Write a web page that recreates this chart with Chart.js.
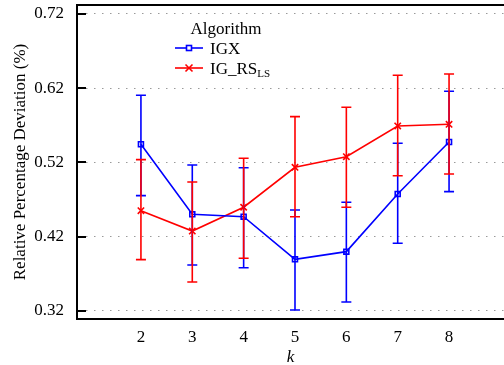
<!DOCTYPE html>
<html>
<head>
<meta charset="utf-8">
<script src="https://cdn.jsdelivr.net/npm/chart.js@4.4.1/dist/chart.umd.min.js"></script>
<style>
  html, body { margin: 0; padding: 0; background: #fff; overflow: hidden; }
  #wrap { position: relative; width: 504px; height: 365px; }
</style>
</head>
<body>
<div id="wrap"><canvas id="c" width="504" height="365"></canvas></div>
<script>
// ---- data ----
const kValues = [2, 3, 4, 5, 6, 7, 8];
const yTickValues = [0.32, 0.42, 0.52, 0.62, 0.72];

const igxMean  = [0.5445, 0.4502, 0.4470, 0.3896, 0.3999, 0.4776, 0.5476];
const igxLower = [0.4753, 0.3820, 0.3783, 0.3213, 0.3321, 0.4112, 0.4807];
const igxUpper = [0.6105, 0.5166, 0.5130, 0.4560, 0.4664, 0.5459, 0.6159];

const rsMean   = [0.4551, 0.4277, 0.4597, 0.5135, 0.5278, 0.5692, 0.5714];
const rsLower  = [0.3891, 0.3591, 0.3910, 0.4470, 0.4597, 0.5022, 0.5045];
const rsUpper  = [0.5238, 0.4937, 0.5257, 0.5817, 0.5943, 0.6374, 0.6392];

const legendTitle = "Algorithm";
const seriesNames = ["IGX", "IG_RS"];
const rsSubscript = "LS";
const yTitle = "Relative Percentage Deviation (%)";
const xTitle = "k";

const FONT = "'Liberation Serif', 'Times New Roman', Times, serif";

function pts(means) { return kValues.map((k, i) => ({ x: k, y: means[i] })); }

const errorBars = {
  id: 'errorBars',
  afterDatasetsDraw(chart) {
    const { ctx, scales: { x, y } } = chart;
    const sets = [
      { lo: igxLower, hi: igxUpper, color: '#0000ff' },
      { lo: rsLower, hi: rsUpper, color: '#ff0000' }
    ];
    ctx.save();
    sets.forEach(s => {
      ctx.strokeStyle = s.color;
      ctx.lineWidth = 1.6;
      kValues.forEach((k, i) => {
        const px = x.getPixelForValue(k);
        const y1 = y.getPixelForValue(s.lo[i]);
        const y2 = y.getPixelForValue(s.hi[i]);
        ctx.beginPath();
        ctx.moveTo(px, y1); ctx.lineTo(px, y2);
        ctx.moveTo(px - 5, y1); ctx.lineTo(px + 5, y1);
        ctx.moveTo(px - 5, y2); ctx.lineTo(px + 5, y2);
        ctx.stroke();
      });
    });
    ctx.restore();
  }
};

const frame = {
  id: 'frame',
  afterDraw(chart) {
    const { ctx, chartArea: a, scales: { y } } = chart;
    ctx.save();
    ctx.strokeStyle = '#000';
    ctx.lineWidth = 2;
    // top border
    ctx.beginPath();
    ctx.moveTo(a.left - 1, a.top); ctx.lineTo(a.right, a.top);
    ctx.stroke();
    // inward y tick marks
    yTickValues.forEach(v => {
      const py = Math.round(y.getPixelForValue(v));
      ctx.beginPath();
      ctx.moveTo(a.left, py); ctx.lineTo(a.left + 9, py);
      ctx.stroke();
    });
    // legend
    ctx.fillStyle = '#000';
    ctx.font = "17px " + FONT;
    ctx.textBaseline = 'alphabetic';
    ctx.textAlign = 'center';
    ctx.fillText(legendTitle, 226, 34);
    ctx.textAlign = 'left';
    const rows = [
      { y: 48, color: '#0000ff', name: seriesNames[0], marker: 'sq' },
      { y: 68, color: '#ff0000', name: seriesNames[1], marker: 'x' }
    ];
    rows.forEach(r => {
      ctx.strokeStyle = r.color;
      ctx.lineWidth = 1.6;
      ctx.beginPath(); ctx.moveTo(175, r.y); ctx.lineTo(203, r.y); ctx.stroke();
      if (r.marker === 'sq') {
        ctx.fillStyle = '#fff';
        ctx.fillRect(186.5, r.y - 2.5, 5, 5);
        ctx.strokeRect(186.5, r.y - 2.5, 5, 5);
      } else {
        ctx.beginPath();
        ctx.moveTo(185.5, r.y - 3.5); ctx.lineTo(192.5, r.y + 3.5);
        ctx.moveTo(185.5, r.y + 3.5); ctx.lineTo(192.5, r.y - 3.5);
        ctx.stroke();
      }
      ctx.fillStyle = '#000';
      ctx.font = "17px " + FONT;
      ctx.fillText(r.name, 210, r.y + 6);
      if (r.marker === 'x') {
        const w = ctx.measureText(r.name).width;
        ctx.font = "11px " + FONT;
        ctx.fillText(rsSubscript, 210 + w, r.y + 9);
      }
    });
    ctx.restore();
  }
};

function draw() {
  new Chart(document.getElementById('c'), {
    type: 'line',
    data: {
      datasets: [
        {
          label: seriesNames[0],
          data: pts(igxMean),
          borderColor: '#0000ff',
          backgroundColor: 'rgba(255,255,255,0)',
          borderWidth: 1.6,
          pointStyle: 'rect',
          pointRadius: 3.5,
          pointBorderWidth: 1.6,
          pointBorderColor: '#0000ff',
          pointBackgroundColor: 'rgba(255,255,255,0)',
          tension: 0
        },
        {
          label: seriesNames[1] + rsSubscript,
          data: pts(rsMean),
          borderColor: '#ff0000',
          backgroundColor: 'rgba(255,255,255,0)',
          borderWidth: 1.6,
          pointStyle: 'crossRot',
          pointRadius: 4.5,
          pointBorderWidth: 1.6,
          pointBorderColor: '#ff0000',
          tension: 0
        }
      ]
    },
    options: {
      responsive: false,
      animation: false,
      devicePixelRatio: 1,
      layout: { autoPadding: false, padding: { top: 5, right: 0, left: 0, bottom: 0 } },
      plugins: { legend: { display: false }, tooltip: { enabled: false } },
      scales: {
        x: {
          type: 'linear',
          min: 0.755,
          max: 9.07,
          afterBuildTicks(s) { s.ticks = kValues.map(v => ({ value: v })); },
          afterFit(s) { s.height = 46; s.paddingLeft = 0; s.paddingRight = 0; },
          grid: { display: false, drawTicks: false },
          border: { display: true, color: '#000', width: 2 },
          ticks: {
            color: '#000',
            padding: 8,
            maxRotation: 0,
            font: { family: FONT, size: 17 },
            callback: v => String(v)
          },
          title: {
            display: true,
            text: xTitle,
            color: '#000',
            padding: { top: 4, bottom: -3 },
            font: { family: FONT, size: 17, style: 'italic' }
          }
        },
        y: {
          type: 'linear',
          min: 0.3092,
          max: 0.7321,
          afterBuildTicks(s) { s.ticks = yTickValues.map(v => ({ value: v })); },
          afterFit(s) { s.width = 77; s.paddingTop = 0; s.paddingBottom = 0; },
          grid: { display: true, drawTicks: false, color: '#9a9a9a', lineWidth: 1 },
          border: { display: true, color: '#000', width: 2, dash: [1.5, 6.5] },
          ticks: {
            color: '#000',
            padding: 13,
            font: { family: FONT, size: 17 },
            callback: v => Number(v).toFixed(2)
          },
          title: {
            display: true,
            text: yTitle,
            color: '#000',
            padding: { top: 10, bottom: 0 },
            font: { family: FONT, size: 17 }
          }
        }
      }
    },
    plugins: [errorBars, frame]
  });
}

if (document.fonts && document.fonts.load) {
  Promise.all([
    document.fonts.load("17px 'Liberation Serif'"),
    document.fonts.load("italic 17px 'Liberation Serif'")
  ]).then(draw, draw);
} else {
  draw();
}
</script>
</body>
</html>
